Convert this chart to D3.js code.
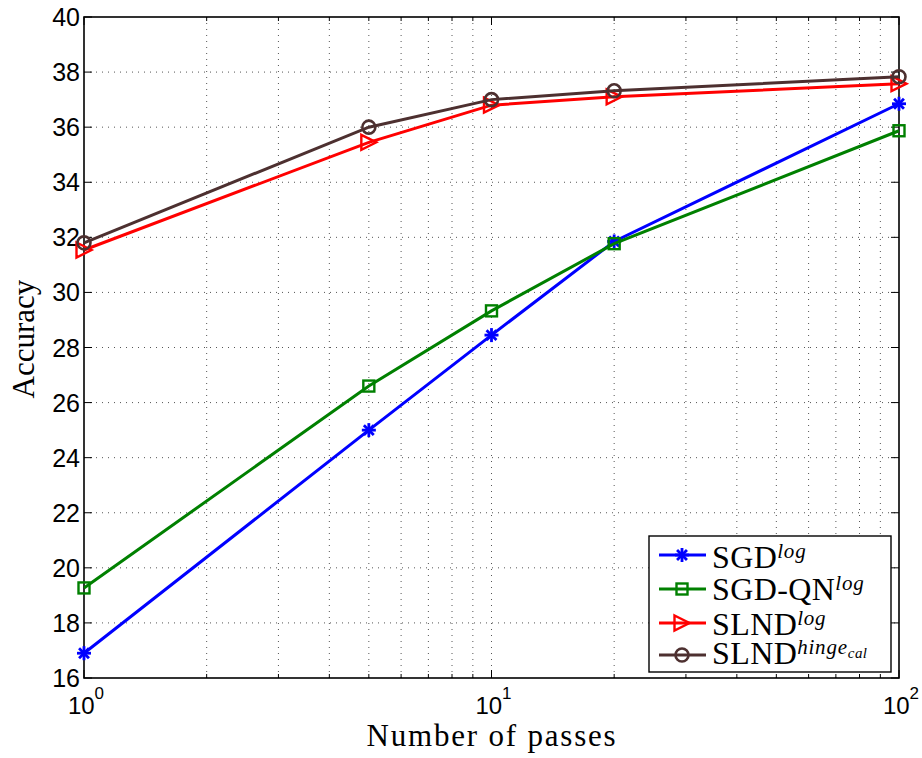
<!DOCTYPE html>
<html>
<head>
<meta charset="utf-8">
<script src="https://cdn.jsdelivr.net/npm/d3@7"></script>
<style>
  html, body { margin: 0; padding: 0; background: #fff; }
  svg { display: block; }
</style>
</head>
<body>
<svg id="chart" width="922" height="758"></svg>
<script>
// Number of passes over the data
const passes = [1, 5, 10, 20, 100];

// Accuracy per method
const sgdLog    = [16.9, 25.0, 28.45, 31.85, 36.85];
const sgdqnLog  = [19.27, 26.6, 29.33, 31.77, 35.87];
const slndLog   = [31.54, 35.45, 36.8, 37.1, 37.58];
const slndHinge = [31.8, 36.0, 37.0, 37.32, 37.83];

const yTicks = [16, 18, 20, 22, 24, 26, 28, 30, 32, 34, 36, 38, 40];
const xMajor = [1, 10, 100];
const xExp = ["0", "1", "2"];

const seriesList = [
  { name: "SGD", sup: "log", sub: null, values: sgdLog, color: "#0000ff", marker: "star" },
  { name: "SGD-QN", sup: "log", sub: null, values: sgdqnLog, color: "#008000", marker: "square" },
  { name: "SLND", sup: "log", sub: null, values: slndLog, color: "#ff0000", marker: "triangle" },
  { name: "SLND", sup: "hinge", sub: "cal", values: slndHinge, color: "#4d3030", marker: "circle" }
];

const svg = d3.select("#chart");
const plot = { left: 84, right: 899, top: 17, bottom: 678 };
const serif = "'Liberation Serif', 'DejaVu Serif', serif";
const sans = "'Liberation Sans', Arial, sans-serif";

const x = d3.scaleLog().domain([1, 100]).range([plot.left, plot.right]);
const y = d3.scaleLinear().domain([16, 40]).range([plot.bottom, plot.top]);

const minorX = [];
for (let d = 1; d < 100; d *= 10) for (let k = 2; k <= 9; k++) minorX.push(d * k);

// dotted grid
const grid = svg.append("g").attr("stroke", "#555").attr("stroke-width", 1)
  .attr("stroke-dasharray", "1,5").attr("fill", "none");
minorX.concat([10]).forEach(v => {
  grid.append("line").attr("x1", x(v)).attr("x2", x(v)).attr("y1", plot.top).attr("y2", plot.bottom);
});
yTicks.slice(1, -1).forEach(v => {
  grid.append("line").attr("x1", plot.left).attr("x2", plot.right).attr("y1", y(v)).attr("y2", y(v));
});

// ticks (inside, on all four sides)
const ticks = svg.append("g").attr("stroke", "#000").attr("stroke-width", 1);
yTicks.forEach(v => {
  ticks.append("line").attr("x1", plot.left).attr("x2", plot.left + 8).attr("y1", y(v)).attr("y2", y(v));
  ticks.append("line").attr("x1", plot.right).attr("x2", plot.right - 8).attr("y1", y(v)).attr("y2", y(v));
});
xMajor.forEach(v => {
  ticks.append("line").attr("x1", x(v)).attr("x2", x(v)).attr("y1", plot.bottom).attr("y2", plot.bottom - 8);
  ticks.append("line").attr("x1", x(v)).attr("x2", x(v)).attr("y1", plot.top).attr("y2", plot.top + 8);
});
minorX.forEach(v => {
  ticks.append("line").attr("x1", x(v)).attr("x2", x(v)).attr("y1", plot.bottom).attr("y2", plot.bottom - 4);
  ticks.append("line").attr("x1", x(v)).attr("x2", x(v)).attr("y1", plot.top).attr("y2", plot.top + 4);
});

// frame
svg.append("rect").attr("x", plot.left).attr("y", plot.top)
  .attr("width", plot.right - plot.left).attr("height", plot.bottom - plot.top)
  .attr("fill", "none").attr("stroke", "#000").attr("stroke-width", 1.6);

// y tick labels
svg.append("g").selectAll("text").data(yTicks).join("text")
  .attr("x", plot.left - 4).attr("y", d => y(d)).attr("dy", "0.36em")
  .attr("text-anchor", "end")
  .style("font-family", sans).style("font-size", "25px")
  .text(d => d);

// x tick labels: 10^n
xMajor.forEach((v, i) => {
  const t = svg.append("text").attr("x", x(v) + 2).attr("y", 714)
    .attr("text-anchor", "middle")
    .style("font-family", sans).style("font-size", "24px");
  t.append("tspan").text("10");
  t.append("tspan").attr("dy", -15).style("font-size", "17px").text(xExp[i]);
});

// axis titles
svg.append("text").attr("x", 492).attr("y", 746).attr("text-anchor", "middle")
  .style("font-family", serif).style("font-size", "31px").style("letter-spacing", "1.8px")
  .text("Number of passes");
svg.append("text").attr("transform", "translate(34,339) rotate(-90)").attr("text-anchor", "middle")
  .style("font-family", serif).style("font-size", "31px")
  .text("Accuracy");

// markers
function drawMarker(g, type, cx, cy, color) {
  if (type === "star") {
    const r = 7;
    for (let k = 0; k < 4; k++) {
      const a = k * Math.PI / 4;
      g.append("line").attr("x1", cx - r * Math.cos(a)).attr("y1", cy - r * Math.sin(a))
        .attr("x2", cx + r * Math.cos(a)).attr("y2", cy + r * Math.sin(a))
        .attr("stroke", color).attr("stroke-width", 2.8);
    }
  } else if (type === "square") {
    g.append("rect").attr("x", cx - 5.5).attr("y", cy - 5.5).attr("width", 11).attr("height", 11)
      .attr("fill", "none").attr("stroke", color).attr("stroke-width", 2.4);
  } else if (type === "triangle") {
    const s = 7.5;
    g.append("path").attr("d", `M${cx - s},${cy - s}L${cx + s},${cy}L${cx - s},${cy + s}Z`)
      .attr("fill", "none").attr("stroke", color).attr("stroke-width", 2.4);
  } else {
    g.append("circle").attr("cx", cx).attr("cy", cy).attr("r", 6.5)
      .attr("fill", "none").attr("stroke", color).attr("stroke-width", 2.6);
  }
}

const line = d3.line().x(d => x(d[0])).y(d => y(d[1]));
seriesList.forEach(s => {
  const pts = passes.map((p, i) => [p, s.values[i]]);
  const g = svg.append("g");
  g.append("path").datum(pts).attr("d", line)
    .attr("fill", "none").attr("stroke", s.color).attr("stroke-width", 3);
  pts.forEach(p => drawMarker(g, s.marker, x(p[0]), y(p[1]), s.color));
});

// legend
const lg = svg.append("g");
lg.append("rect").attr("x", 649).attr("y", 536).attr("width", 242).attr("height", 136)
  .attr("fill", "#fff").attr("stroke", "#000").attr("stroke-width", 1.4);
const rowY = [555, 589, 623, 655];
const rowBase = [568, 600, 635, 664];
seriesList.forEach((s, i) => {
  const yy = rowY[i];
  lg.append("line").attr("x1", 659).attr("x2", 706).attr("y1", yy).attr("y2", yy)
    .attr("stroke", s.color).attr("stroke-width", 3);
  drawMarker(lg, s.marker, 682, yy, s.color);
  const t = lg.append("text").attr("x", 712).attr("y", rowBase[i])
    .style("font-family", serif).style("font-size", "32px").style("letter-spacing", "0.4px");
  t.append("tspan").text(s.name);
  t.append("tspan").attr("dy", -10).style("font-size", "21px").style("font-style", "italic")
    .style("letter-spacing", "0.8px").text(s.sup);
  if (s.sub) t.append("tspan").attr("dy", 4).style("font-size", "15px").style("font-style", "italic").text(s.sub);
});
</script>
</body>
</html>
